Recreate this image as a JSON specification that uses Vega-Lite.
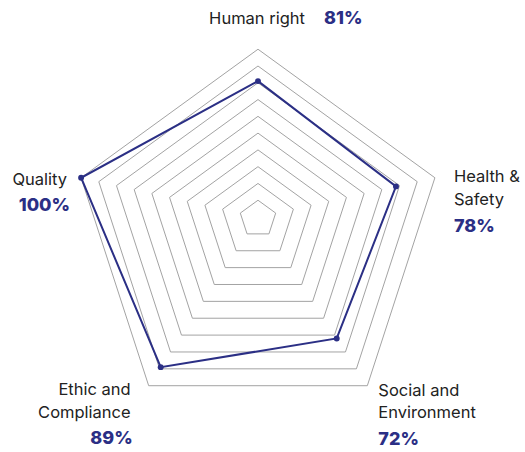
{
  "$schema": "https://vega.github.io/schema/vega-lite/v6.json",
  "width": 525,
  "height": 452,
  "padding": 0,
  "autosize": {"type": "none"},
  "background": "white",
  "config": {"view": {"stroke": null}, "font": "Inter"},
  "datasets": {
    "scores": [
      {"axis": "Human right", "i": 0, "value": 81},
      {"axis": "Health & Safety", "i": 1, "value": 78},
      {"axis": "Social and Environment", "i": 2, "value": 72},
      {"axis": "Ethic and Compliance", "i": 3, "value": 89},
      {"axis": "Quality", "i": 4, "value": 100}
    ],
    "grid": [
      {"level": 10, "i": [0, 1, 2, 3, 4]},
      {"level": 20, "i": [0, 1, 2, 3, 4]},
      {"level": 30, "i": [0, 1, 2, 3, 4]},
      {"level": 40, "i": [0, 1, 2, 3, 4]},
      {"level": 50, "i": [0, 1, 2, 3, 4]},
      {"level": 60, "i": [0, 1, 2, 3, 4]},
      {"level": 70, "i": [0, 1, 2, 3, 4]},
      {"level": 80, "i": [0, 1, 2, 3, 4]},
      {"level": 90, "i": [0, 1, 2, 3, 4]},
      {"level": 100, "i": [0, 1, 2, 3, 4]}
    ]
  },
  "encoding": {
    "x": {"field": "X", "type": "quantitative", "scale": {"domain": [-1.3871, 1.4355], "nice": false, "zero": false}, "axis": null},
    "y": {"field": "Y", "type": "quantitative", "scale": {"domain": [-1.2634, 1.1667], "nice": false, "zero": false}, "axis": null}
  },
  "layer": [
    {
      "data": {"name": "grid"},
      "transform": [
        {"flatten": ["i"]},
        {"calculate": "datum.i * 2 * PI / 5", "as": "a"},
        {"calculate": "datum.level / 100 * sin(datum.a)", "as": "X"},
        {"calculate": "datum.level / 100 * (cos(datum.a) - 0.098)", "as": "Y"}
      ],
      "mark": {"type": "line", "interpolate": "linear-closed", "stroke": "#a3a3a3", "strokeWidth": 1},
      "encoding": {
        "detail": {"field": "level", "type": "nominal"},
        "order": {"field": "i", "type": "quantitative"}
      }
    },
    {
      "data": {"name": "scores"},
      "transform": [
        {"calculate": "datum.i * 2 * PI / 5", "as": "a"},
        {"calculate": "datum.value / 100 * sin(datum.a)", "as": "X"},
        {"calculate": "datum.value / 100 * (cos(datum.a) - 0.098)", "as": "Y"}
      ],
      "layer": [
        {
          "mark": {"type": "line", "interpolate": "linear-closed", "stroke": "#2b2f85", "strokeWidth": 2},
          "encoding": {"order": {"field": "i", "type": "quantitative"}}
        },
        {
          "mark": {"type": "point", "filled": true, "size": 35, "color": "#2b2f85", "opacity": 1}
        }
      ]
    },
    {
      "data": {"name": "scores"},
      "transform": [
        {"calculate": "datum.i * 2 * PI / 5", "as": "a"},
        {"calculate": "sin(datum.a)", "as": "X"},
        {"calculate": "cos(datum.a) - 0.098", "as": "Y"},
        {"calculate": "datum.value + '%'", "as": "pct"},
        {"calculate": "datum.i == 0 || datum.i == 4 ? [datum.axis] : [substring(datum.axis, 0, lastindexof(datum.axis, ' ')), substring(datum.axis, lastindexof(datum.axis, ' ') + 1)]", "as": "lines"}
      ],
      "layer": [
        {"transform": [{"filter": "datum.i == 0"}], "mark": {"type": "text", "align": "right", "baseline": "alphabetic", "dx": 47, "dy": -25, "fontSize": 16.5, "color": "#222222"}, "encoding": {"text": {"field": "lines", "type": "nominal"}}},
        {"transform": [{"filter": "datum.i == 0"}], "mark": {"type": "text", "align": "left", "baseline": "alphabetic", "dx": 66, "dy": -25, "fontSize": 18, "fontWeight": 800, "color": "#2b2f85"}, "encoding": {"text": {"field": "pct", "type": "nominal"}}},
        {"transform": [{"filter": "datum.i == 1"}], "mark": {"type": "text", "align": "left", "baseline": "alphabetic", "dx": 19, "dy": 4.5, "fontSize": 16.5, "lineHeight": 22.5, "color": "#222222"}, "encoding": {"text": {"field": "lines", "type": "nominal"}}},
        {"transform": [{"filter": "datum.i == 1"}], "mark": {"type": "text", "align": "left", "baseline": "alphabetic", "dx": 19, "dy": 54, "fontSize": 18, "fontWeight": 800, "color": "#2b2f85"}, "encoding": {"text": {"field": "pct", "type": "nominal"}}},
        {"transform": [{"filter": "datum.i == 2"}], "mark": {"type": "text", "align": "left", "baseline": "alphabetic", "dx": 11, "dy": 10, "fontSize": 16.5, "lineHeight": 22.5, "color": "#222222"}, "encoding": {"text": {"field": "lines", "type": "nominal"}}},
        {"transform": [{"filter": "datum.i == 2"}], "mark": {"type": "text", "align": "left", "baseline": "alphabetic", "dx": 11, "dy": 59.5, "fontSize": 18, "fontWeight": 800, "color": "#2b2f85"}, "encoding": {"text": {"field": "pct", "type": "nominal"}}},
        {"transform": [{"filter": "datum.i == 3"}], "mark": {"type": "text", "align": "right", "baseline": "alphabetic", "dx": -18, "dy": 9.3, "fontSize": 16.5, "lineHeight": 22.5, "color": "#222222"}, "encoding": {"text": {"field": "lines", "type": "nominal"}}},
        {"transform": [{"filter": "datum.i == 3"}], "mark": {"type": "text", "align": "right", "baseline": "alphabetic", "dx": -16, "dy": 58, "fontSize": 18, "fontWeight": 800, "color": "#2b2f85"}, "encoding": {"text": {"field": "pct", "type": "nominal"}}},
        {"transform": [{"filter": "datum.i == 4"}], "mark": {"type": "text", "align": "right", "baseline": "alphabetic", "dx": -14, "dy": 7, "fontSize": 16.5, "color": "#222222"}, "encoding": {"text": {"field": "lines", "type": "nominal"}}},
        {"transform": [{"filter": "datum.i == 4"}], "mark": {"type": "text", "align": "right", "baseline": "alphabetic", "dx": -11, "dy": 33, "fontSize": 18, "fontWeight": 800, "color": "#2b2f85"}, "encoding": {"text": {"field": "pct", "type": "nominal"}}}
      ]
    }
  ]
}
